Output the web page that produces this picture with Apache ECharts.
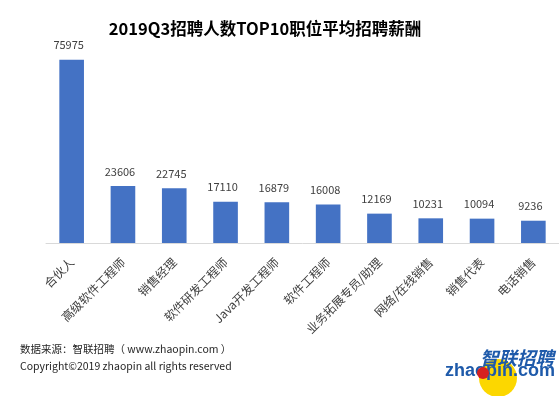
<!DOCTYPE html>
<html>
<head>
<meta charset="utf-8">
<script src="https://cdn.jsdelivr.net/npm/echarts@6/dist/echarts.min.js"></script>
<style>html,body{margin:0;padding:0;background:#fff}#c{width:559px;height:396px}</style>
</head>
<body>
<div id="c"></div>
<script>
const categories = ['合伙人','高级软件工程师','销售经理','软件研发工程师','Java开发工程师','软件工程师','业务拓展专员/助理','网络/在线销售','销售代表','电话销售'];
const salaries = [75975, 23606, 22745, 17110, 16879, 16008, 12169, 10231, 10094, 9236];
const titleText = '2019Q3招聘人数TOP10职位平均招聘薪酬';
const sourceText = '数据来源：智联招聘（ www.zhaopin.com ）';
const copyrightText = 'Copyright©2019 zhaopin all rights reserved';

const font = '"Noto Sans CJK SC", "Noto Sans", sans-serif';
const chart = echarts.init(document.getElementById('c'));
chart.setOption({
  animation: false,
  backgroundColor: '#fff',
  title: {
    text: titleText, left: 260, top: 15, textAlign: 'center',
    textStyle: { fontSize: 16.5, fontWeight: 'bold', color: '#000', fontFamily: font }
  },
  grid: { left: 46, right: 0, top: 50, bottom: 153, containLabel: false },
  xAxis: {
    type: 'category', data: categories,
    axisLine: { lineStyle: { color: '#d9d9d9', width: 1 } },
    axisTick: { show: false },
    axisLabel: { rotate: 45, margin: 17, fontSize: 12, color: '#404040', fontFamily: font, interval: 0 }
  },
  yAxis: { type: 'value', min: 0, max: 80000, show: false, splitLine: { show: false } },
  series: [{
    type: 'bar', data: salaries, barWidth: '48%',
    itemStyle: { color: '#4472C4' },
    label: { show: true, position: 'top', distance: 9, offset: [-3, 0], fontSize: 11, color: '#404040', fontFamily: font }
  }],
  graphic: [
    { type: 'text', left: 20, top: 344, style: { text: sourceText, fontSize: 10.5, fill: '#262626', fontFamily: font } },
    { type: 'text', left: 20, top: 361, style: { text: copyrightText, fontSize: 10.5, fill: '#262626', fontFamily: font } },
    { type: 'circle', shape: { cx: 498, cy: 378, r: 19 }, style: { fill: '#FCD700' } },
    { type: 'text', left: 480, top: 349, style: { text: '智联招聘', fontSize: 18.5, fontWeight: 'bold', fontStyle: 'italic', fill: '#1E5AAA', fontFamily: font } },
    { type: 'text', left: 445, top: 362, style: { text: 'zhaopin.com', fontSize: 18, fontWeight: 'bold', fill: '#1E5AAA', fontFamily: '"Liberation Sans", Arial, sans-serif' } },
    { type: 'circle', shape: { cx: 483, cy: 373, r: 6 }, style: { fill: '#D62020' } }
  ]
});
</script>
</body>
</html>
